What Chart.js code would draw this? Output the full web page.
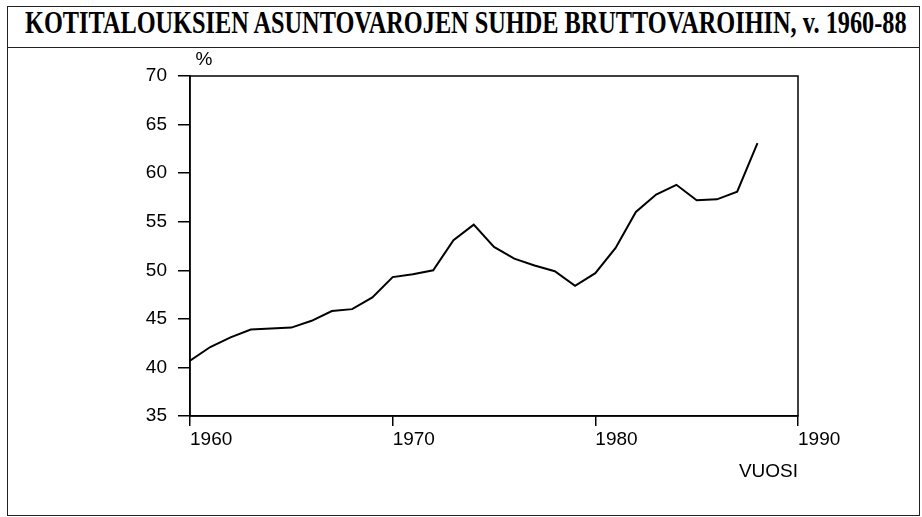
<!DOCTYPE html>
<html>
<head>
<meta charset="utf-8">
<script src="https://cdn.jsdelivr.net/npm/chart.js@4"></script>
<style>
  body { margin: 0; background: #fff; }
  #wrap { position: relative; width: 922px; height: 517px; overflow: hidden; }
  #frame { position: absolute; left: 7px; top: 6px; width: 911px; height: 508px; border: 1px solid #222; }
  #rule { position: absolute; left: 7px; top: 47px; width: 913px; height: 1px; background: #222; }
  #title {
    position: absolute; left: 25px; top: 6px; white-space: nowrap;
    font-family: 'Liberation Serif', 'Times New Roman', serif; font-weight: bold;
    font-size: 31px; line-height: 34px; color: #000; transform-origin: left top;
  }
  canvas { position: absolute; left: 0; top: 0; }
</style>
</head>
<body>
<div id="wrap">
  <div id="frame"></div>
  <div id="rule"></div>
  <div id="title">KOTITALOUKSIEN ASUNTOVAROJEN SUHDE BRUTTOVAROIHIN, v. 1960-88</div>
  <canvas id="chart" width="922" height="517"></canvas>
</div>
<script>
// Years and household housing assets as share of gross assets (%)
const years = [1960, 1961, 1962, 1963, 1964, 1965, 1966, 1967, 1968, 1969,
  1970, 1971, 1972, 1973, 1974, 1975, 1976, 1977, 1978, 1979,
  1980, 1981, 1982, 1983, 1984, 1985, 1986, 1987, 1988];
const shares = [40.7, 42.1, 43.1, 43.9, 44.0, 44.1, 44.8, 45.8, 46.0, 47.2,
  49.3, 49.6, 50.0, 53.1, 54.7, 52.4, 51.2, 50.5, 49.9, 48.4,
  49.7, 52.3, 56.0, 57.8, 58.8, 57.2, 57.3, 58.1, 63.1];
const xTicks = [1960, 1970, 1980, 1990];
const yTicks = [35, 40, 45, 50, 55, 60, 65, 70];

// Squeeze the title to the condensed width of the original
const title = document.getElementById('title');
title.style.transform = `scaleX(${882 / title.scrollWidth})`;

const ink = '#000';
const labelFont = { family: 'Liberation Sans, Arial, sans-serif', size: 19 };

// Close the plot box and put the "%" unit above the y axis
const boxPlugin = {
  id: 'box',
  afterDraw(chart) {
    const { ctx, chartArea: a } = chart;
    ctx.save();
    ctx.strokeStyle = ink;
    ctx.lineWidth = 1.5;
    ctx.strokeRect(a.left, a.top, a.right - a.left, a.bottom - a.top);
    ctx.fillStyle = ink;
    ctx.font = '19px Liberation Sans, Arial, sans-serif';
    ctx.textAlign = 'center';
    ctx.textBaseline = 'middle';
    ctx.fillText('%', a.left + 14, a.top - 16);
    ctx.restore();
  }
};

new Chart(document.getElementById('chart'), {
  type: 'line',
  data: {
    datasets: [{
      data: years.map((y, i) => ({ x: y, y: shares[i] })),
      borderColor: ink,
      borderWidth: 2,
      pointRadius: 0,
      tension: 0,
      fill: false
    }]
  },
  options: {
    responsive: false,
    animation: false,
    layout: { padding: { left: 0, top: 76, right: 124, bottom: 0 } },
    plugins: {
      legend: { display: false },
      tooltip: { enabled: false }
    },
    scales: {
      x: {
        type: 'linear',
        min: 1960,
        max: 1990,
        afterFit: (scale) => { scale.height = 101; },
        afterBuildTicks: (scale) => { scale.ticks = xTicks.map(v => ({ value: v })); },
        border: { display: true, color: ink, width: 1.5 },
        grid: { drawOnChartArea: false, drawTicks: true, tickLength: 10, tickColor: ink, lineWidth: 1.5 },
        ticks: {
          color: ink, font: labelFont, align: 'start', maxRotation: 0, autoSkip: false, padding: 2,
          callback: (value) => String(value)
        },
        title: {
          display: true,
          text: 'VUOSI',
          align: 'end',
          color: ink,
          font: labelFont,
          padding: { top: 0, bottom: 34 }
        }
      },
      y: {
        min: 35,
        max: 70,
        afterFit: (scale) => { scale.width = 190; },
        afterBuildTicks: (scale) => { scale.ticks = yTicks.map(v => ({ value: v })); },
        border: { display: true, color: ink, width: 1.5 },
        grid: { drawOnChartArea: false, drawTicks: true, tickLength: 12, tickColor: ink, lineWidth: 1.5 },
        ticks: { color: ink, font: labelFont, padding: 11 }
      }
    }
  },
  plugins: [boxPlugin]
});
</script>
</body>
</html>
